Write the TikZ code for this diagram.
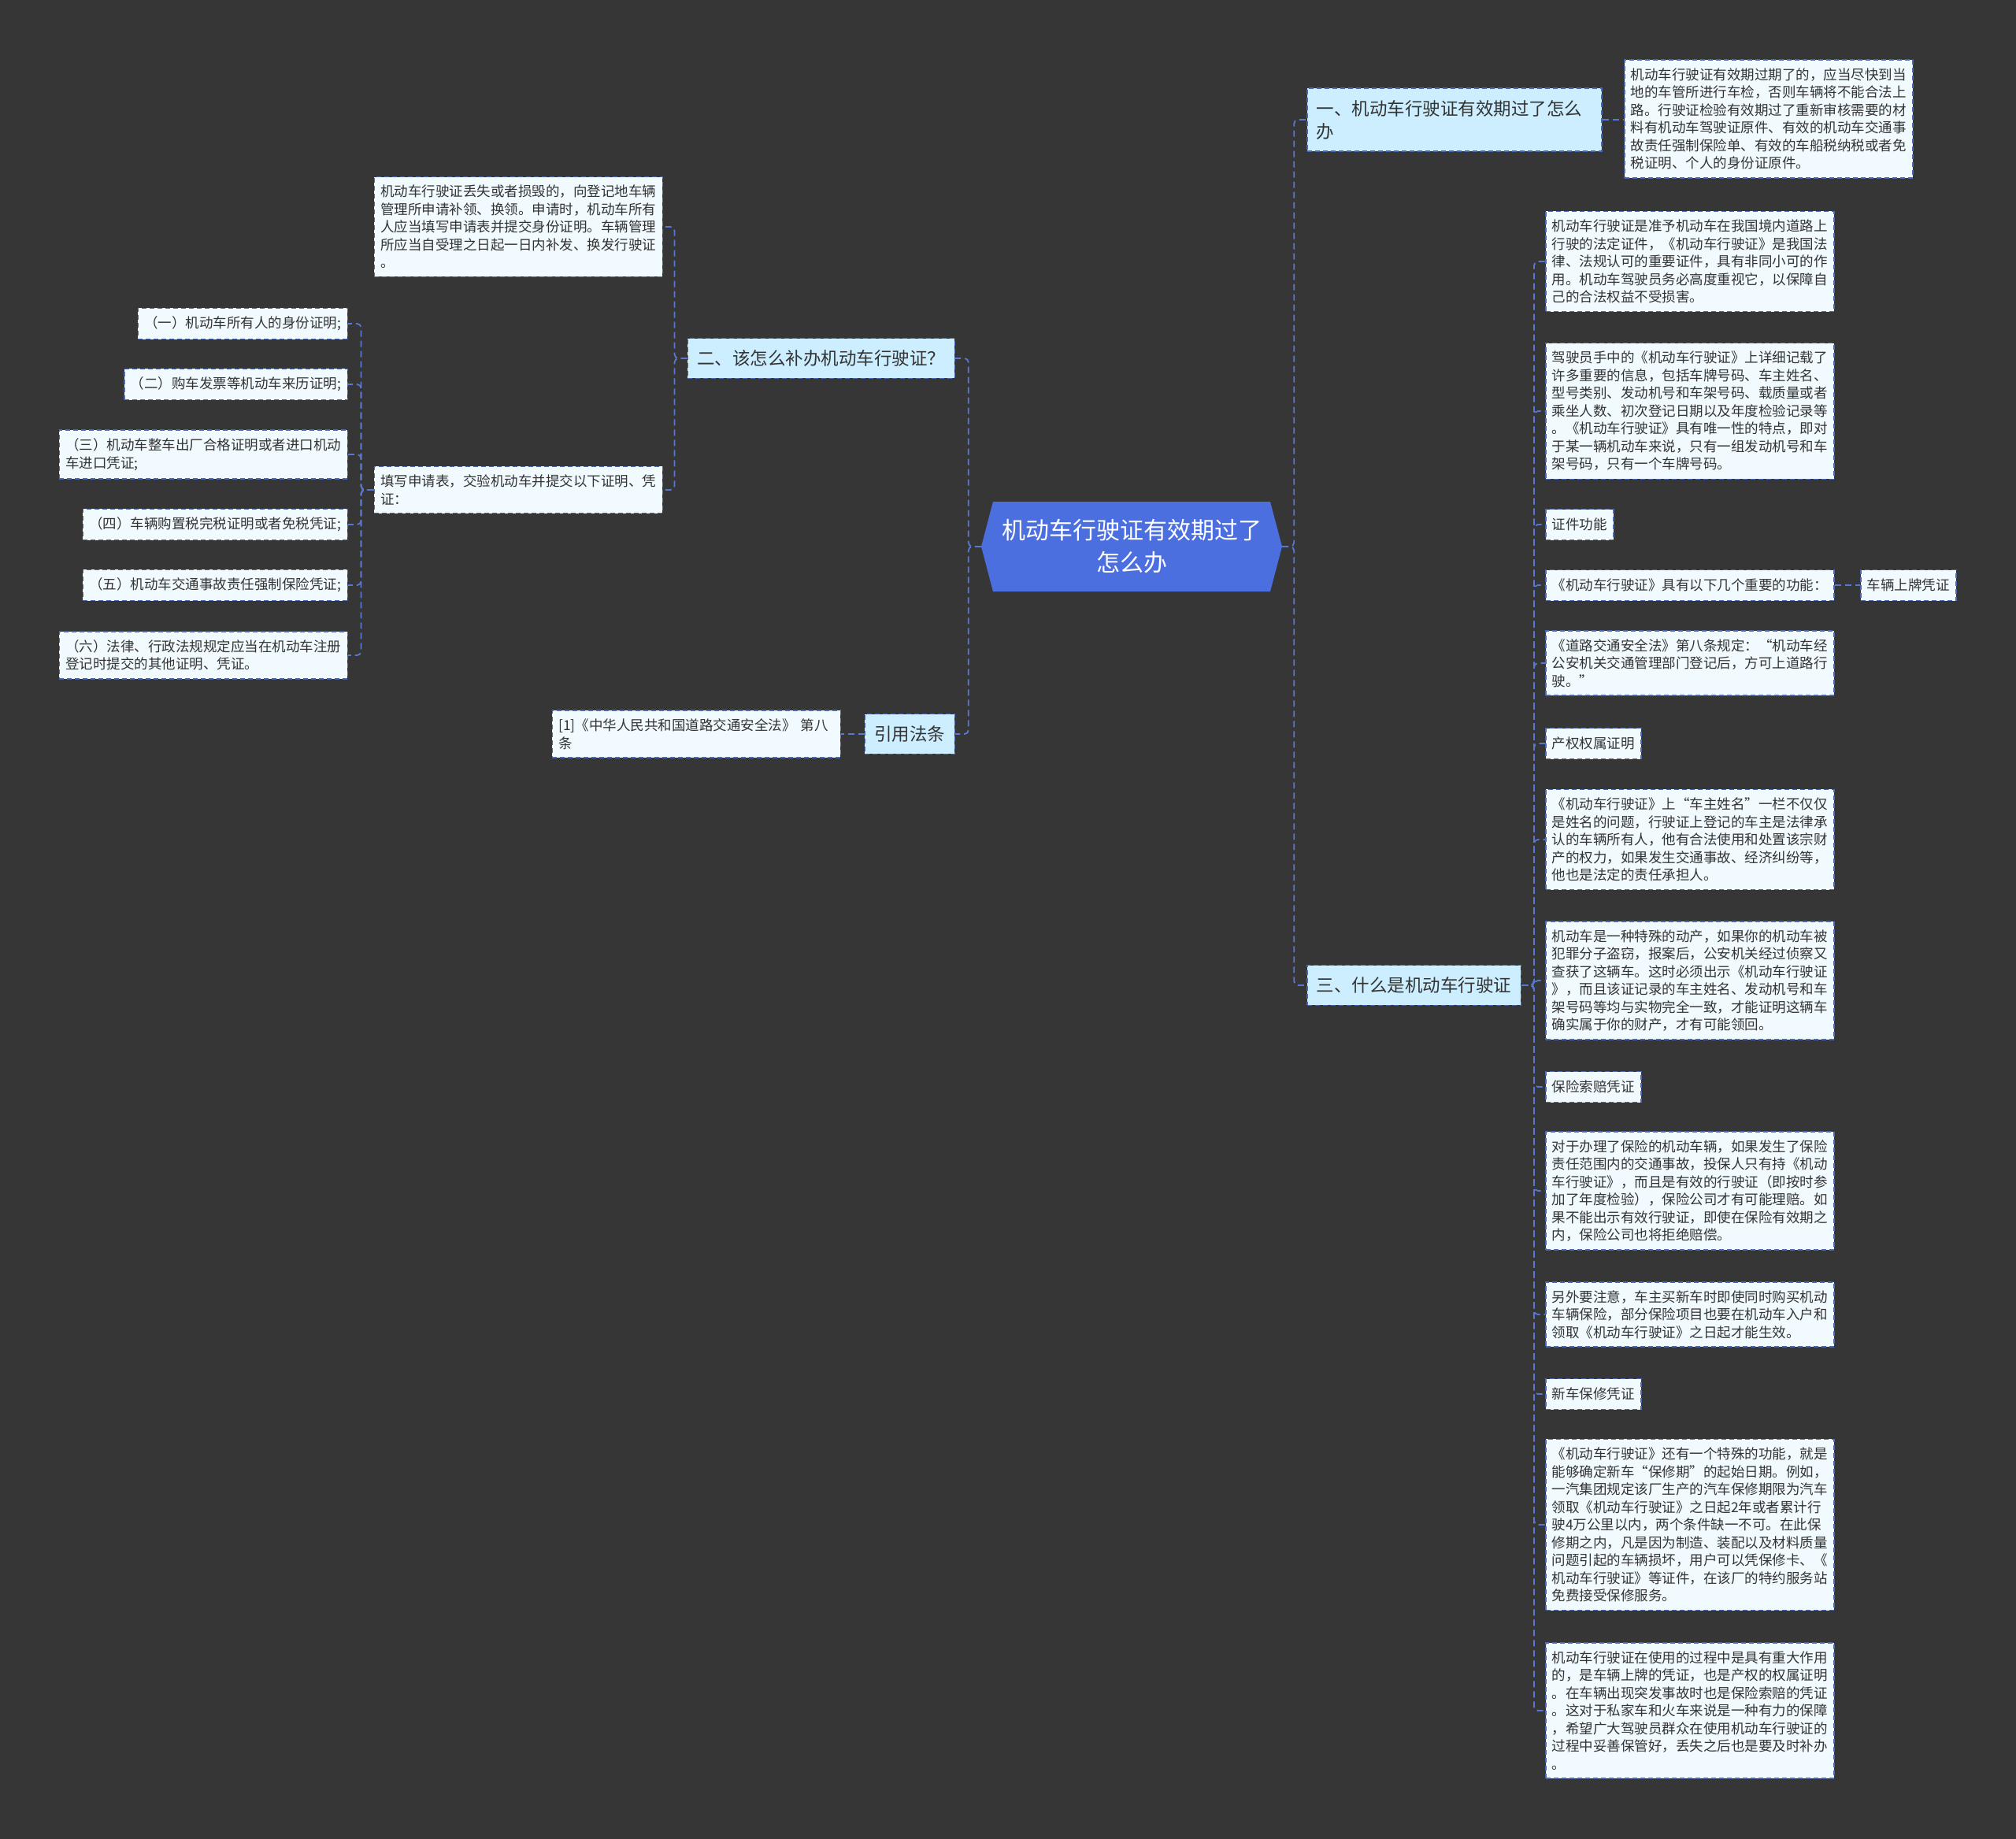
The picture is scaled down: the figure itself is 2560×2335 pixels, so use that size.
\documentclass[tikz,border=0pt]{standalone}
\usepackage{fontspec}
\setmainfont{Noto Sans CJK SC}

\definecolor{bgdark}{HTML}{363636}
\definecolor{rootblue}{HTML}{4C6FE0}
\definecolor{topicfill}{HTML}{CCEEFF}
\definecolor{leaffill}{HTML}{F0FAFF}
\definecolor{edgeblue}{HTML}{4A68B8}
\definecolor{linkblue}{HTML}{5878D4}
\definecolor{inkgray}{HTML}{333333}

\tikzset{
  box/.style={draw=edgeblue, line width=1.5pt, dash pattern=on 6pt off 4pt,
    fill=leaffill, text=inkgray, align=left, inner xsep=8pt, inner ysep=10.5pt,
    font=\fontsize{17.5}{22.5}\selectfont},
  leaf/.style={box, text width=350pt},
  tag/.style={box, minimum height=39pt},
  topic/.style={box, fill=topicfill, inner xsep=12pt, inner ysep=15pt,
    font=\fontsize{22.5}{29}\selectfont},
  link/.style={draw=linkblue, line width=1.8pt, dash pattern=on 8pt off 5pt,
    rounded corners=5pt},
}

\begin{document}
\begin{tikzpicture}[x=1pt, y=-1pt]
  \fill[bgdark] (0,0) rectangle (2560,2335);
  \useasboundingbox (0,0) rectangle (2560,2335);

  \fill[rootblue] (1246,694) -- (1261,637) -- (1613,637) -- (1628,694)
    -- (1613,751) -- (1261,751) -- cycle;
  \node[text=white, align=center, minimum width=382pt, minimum height=114pt,
    font=\fontsize{30}{41}\selectfont] (root) at (1437,694)
    {机动车行驶证有效期过了\\怎么办};

  \node[topic, text width=350pt, anchor=west] (expire) at (1659,152)
    {一、机动车行驶证有效期过了怎么\\办};
  \node[leaf, anchor=west] (expnote) at (2062,151)
    {机动车行驶证有效期过期了的，应当尽快到当\\地的车管所进行车检，否则车辆将不能合法上\\路。行驶证检验有效期过了重新审核需要的材\\料有机动车驾驶证原件、有效的机动车交通事\\故责任强制保险单、有效的车船税纳税或者免\\税证明、个人的身份证原件。};

  \node[topic, anchor=west] (what) at (1659,1251) {三、什么是机动车行驶证};
  \node[leaf, anchor=west] (w1) at (1962,332)
    {机动车行驶证是准予机动车在我国境内道路上\\行驶的法定证件，《机动车行驶证》是我国法\\律、法规认可的重要证件，具有非同小可的作\\用。机动车驾驶员务必高度重视它，以保障自\\己的合法权益不受损害。};
  \node[leaf, anchor=west] (w2) at (1962,522)
    {驾驶员手中的《机动车行驶证》上详细记载了\\许多重要的信息，包括车牌号码、车主姓名、\\型号类别、发动机号和车架号码、载质量或者\\乘坐人数、初次登记日期以及年度检验记录等\\。《机动车行驶证》具有唯一性的特点，即对\\于某一辆机动车来说，只有一组发动机号和车\\架号码，只有一个车牌号码。};
  \node[tag, anchor=west] (w3) at (1962,666) {证件功能};
  \node[tag, anchor=west] (w4) at (1962,743) {《机动车行驶证》具有以下几个重要的功能：};
  \node[tag, anchor=west] (plate) at (2362,743) {车辆上牌凭证};
  \node[leaf, anchor=west] (w5) at (1962,842)
    {《道路交通安全法》第八条规定：“机动车经\\公安机关交通管理部门登记后，方可上道路行\\驶。”};
  \node[tag, anchor=west] (w6) at (1962,944) {产权权属证明};
  \node[leaf, anchor=west] (w7) at (1962,1066)
    {《机动车行驶证》上“车主姓名”一栏不仅仅\\是姓名的问题，行驶证上登记的车主是法律承\\认的车辆所有人，他有合法使用和处置该宗财\\产的权力，如果发生交通事故、经济纠纷等，\\他也是法定的责任承担人。};
  \node[leaf, anchor=west] (w8) at (1962,1245)
    {机动车是一种特殊的动产，如果你的机动车被\\犯罪分子盗窃，报案后，公安机关经过侦察又\\查获了这辆车。这时必须出示《机动车行驶证\\》，而且该证记录的车主姓名、发动机号和车\\架号码等均与实物完全一致，才能证明这辆车\\确实属于你的财产，才有可能领回。};
  \node[tag, anchor=west] (w9) at (1962,1380) {保险索赔凭证};
  \node[leaf, anchor=west] (w10) at (1962,1512)
    {对于办理了保险的机动车辆，如果发生了保险\\责任范围内的交通事故，投保人只有持《机动\\车行驶证》，而且是有效的行驶证（即按时参\\加了年度检验），保险公司才有可能理赔。如\\果不能出示有效行驶证，即使在保险有效期之\\内，保险公司也将拒绝赔偿。};
  \node[leaf, anchor=west] (w11) at (1962,1669)
    {另外要注意，车主买新车时即使同时购买机动\\车辆保险，部分保险项目也要在机动车入户和\\领取《机动车行驶证》之日起才能生效。};
  \node[tag, anchor=west] (w12) at (1962,1770) {新车保修凭证};
  \node[leaf, anchor=west] (w13) at (1962,1936)
    {《机动车行驶证》还有一个特殊的功能，就是\\能够确定新车“保修期”的起始日期。例如，\\一汽集团规定该厂生产的汽车保修期限为汽车\\领取《机动车行驶证》之日起2年或者累计行\\驶4万公里以内，两个条件缺一不可。在此保\\修期之内，凡是因为制造、装配以及材料质量\\问题引起的车辆损坏，用户可以凭保修卡、《\\机动车行驶证》等证件，在该厂的特约服务站\\免费接受保修服务。};
  \node[leaf, anchor=west] (w14) at (1962,2172)
    {机动车行驶证在使用的过程中是具有重大作用\\的，是车辆上牌的凭证，也是产权的权属证明\\。在车辆出现突发事故时也是保险索赔的凭证\\。这对于私家车和火车来说是一种有力的保障\\，希望广大驾驶员群众在使用机动车行驶证的\\过程中妥善保管好，丢失之后也是要及时补办\\。};

  \node[topic, anchor=east] (reapply) at (1213,455) {二、该怎么补办机动车行驶证？};
  \node[leaf, anchor=east] (lost) at (842,288)
    {机动车行驶证丢失或者损毁的，向登记地车辆\\管理所申请补领、换领。申请时，机动车所有\\人应当填写申请表并提交身份证明。车辆管理\\所应当自受理之日起一日内补发、换发行驶证\\。};
  \node[leaf, anchor=east] (form) at (842,622)
    {填写申请表，交验机动车并提交以下证明、凭\\证：};
  \node[tag, anchor=east] (d1) at (442,411) {（一）机动车所有人的身份证明;};
  \node[tag, anchor=east] (d2) at (442,488) {（二）购车发票等机动车来历证明;};
  \node[leaf, anchor=east] (d3) at (442,577)
    {（三）机动车整车出厂合格证明或者进口机动\\车进口凭证;};
  \node[tag, anchor=east] (d4) at (442,666) {（四）车辆购置税完税证明或者免税凭证;};
  \node[tag, anchor=east] (d5) at (442,743) {（五）机动车交通事故责任强制保险凭证;};
  \node[leaf, anchor=east] (d6) at (442,832)
    {（六）法律、行政法规规定应当在机动车注册\\登记时提交的其他证明、凭证。};

  \node[topic, anchor=east] (law) at (1213,932) {引用法条};
  \node[leaf, anchor=east] (lawref) at (1068,932)
    {[1]《中华人民共和国道路交通安全法》 第八\\条};

  \draw[link] (root.east) -- ++(15,0) |- (expire.west);
  \draw[link] (root.east) -- ++(15,0) |- (what.west);
  \draw[link] (root.west) -- ++(-16,0) |- (reapply.east);
  \draw[link] (root.west) -- ++(-16,0) |- (law.east);
  \draw[link] (expire.east) -- (expnote.west |- expire.east);
  \foreach \i in {1,...,14}
    \draw[link] (what.east) -- ++(16,0) |- (w\i.west);
  \draw[link] (w4.east) -- (plate.west);
  \draw[link] (reapply.west) -- ++(-16,0) |- (lost.east);
  \draw[link] (reapply.west) -- ++(-16,0) |- (form.east);
  \foreach \i in {1,...,6}
    \draw[link] (form.west) -- ++(-16,0) |- (d\i.east);
  \draw[link] (law.west) -- (lawref.east);
\end{tikzpicture}
\end{document}
